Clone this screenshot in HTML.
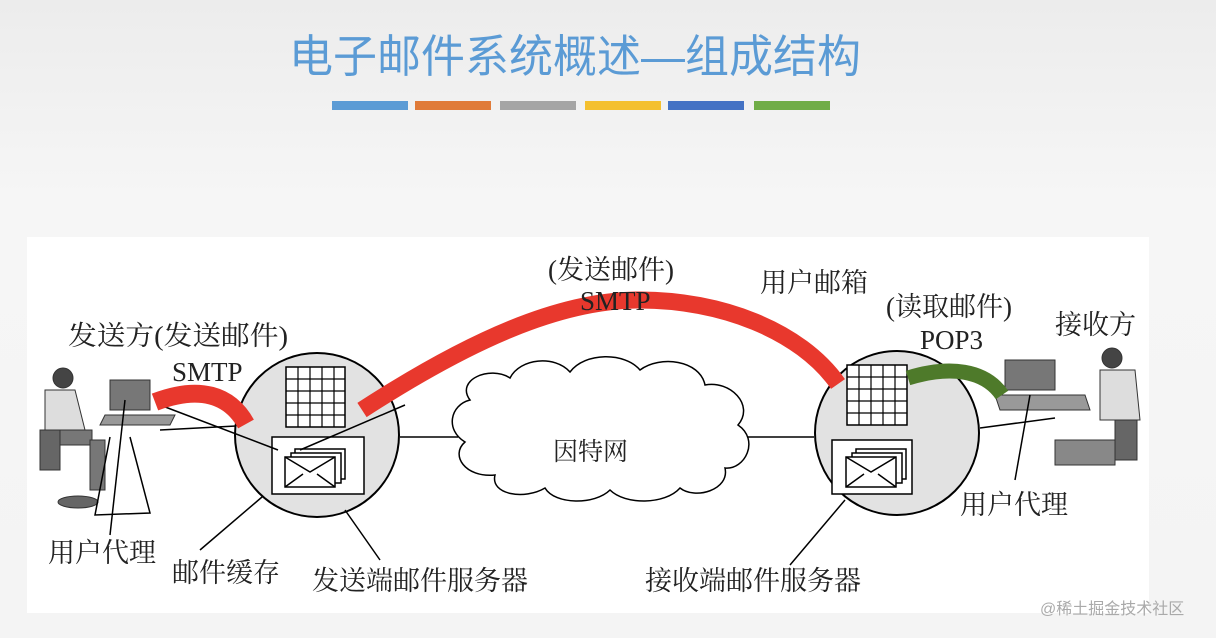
<!DOCTYPE html>
<html><head><meta charset="utf-8"><style>
html,body{margin:0;padding:0;width:1216px;height:638px;overflow:hidden;background:linear-gradient(#ececec,#f6f6f6 200px,#f4f4f4);}
svg{position:absolute;left:0;top:0}
</style></head><body>
<svg width="1216" height="638" viewBox="0 0 1216 638" font-family="Liberation Serif, Noto Serif CJK SC, serif">
<text x="575" y="72" text-anchor="middle" font-family="Liberation Sans, Noto Sans CJK SC, sans-serif" font-size="45" fill="#5b9bd5" textLength="572" lengthAdjust="spacingAndGlyphs">电子邮件系统概述—组成结构</text>
<g>
<rect x="332" y="101" width="76" height="9" fill="#5b9bd5"/>
<rect x="415" y="101" width="76" height="9" fill="#e07b39"/>
<rect x="500" y="101" width="76" height="9" fill="#a5a5a5"/>
<rect x="585" y="101" width="76" height="9" fill="#f4c030"/>
<rect x="668" y="101" width="76" height="9" fill="#4472c4"/>
<rect x="754" y="101" width="76" height="9" fill="#70ad47"/>
</g>
<rect x="27" y="237" width="1122" height="376" fill="#fff"/>
<g stroke="#000" stroke-width="1.5" fill="none">
<line x1="160" y1="430" x2="236" y2="426"/>
<line x1="400" y1="437" x2="458" y2="437"/>
<line x1="745" y1="437" x2="814" y2="437"/>
<line x1="980" y1="428" x2="1055" y2="418"/>
</g>
<circle cx="317" cy="435" r="82" fill="#e2e2e2" stroke="#000" stroke-width="2"/>
<circle cx="897" cy="433" r="82" fill="#e2e2e2" stroke="#000" stroke-width="2"/>
<g stroke="#000" stroke-width="1.5" fill="#fff">
<rect x="286" y="367" width="59" height="60"/>
<rect x="847" y="365" width="60" height="60"/>
</g>
<g stroke="#000" stroke-width="1.2">
<path d="M298 367V427M310 367V427M322 367V427M334 367V427M286 379H345M286 391H345M286 403H345M286 415H345"/>
<path d="M859 365V425M871 365V425M883 365V425M895 365V425M847 377H907M847 389H907M847 401H907M847 413H907"/>
</g>
<g stroke="#000" stroke-width="1.5" fill="#fff">
<rect x="272" y="437" width="92" height="57"/>
<rect x="295" y="449" width="50" height="30"/><rect x="291" y="453" width="50" height="30"/><rect x="285" y="457" width="50" height="30"/>
<path d="M285 457L310 472L335 457M285 487L303 474M335 487L317 474" fill="none"/>
<rect x="832" y="440" width="80" height="54"/>
<rect x="856" y="449" width="50" height="30"/><rect x="852" y="453" width="50" height="30"/><rect x="846" y="457" width="50" height="30"/>
<path d="M846 457L871 472L896 457M846 487L864 474M896 487L878 474" fill="none"/>
</g>
<path d="M470 400 C455 380 490 365 510 378 C520 358 555 355 570 372 C585 352 625 352 640 370 C660 355 700 360 705 385 C730 380 755 405 738 425 C760 440 745 470 725 468 C730 490 695 500 680 488 C665 505 625 505 610 490 C595 505 555 505 545 488 C525 500 490 495 495 475 C465 478 450 455 465 442 C445 430 450 405 470 400Z" fill="#fff" stroke="#000" stroke-width="1.5"/>
<text x="553" y="460" font-size="25" fill="#222">因特网</text>
<g fill="#888" stroke="#333" stroke-width="1">
<rect x="110" y="380" width="40" height="30" fill="#777"/>
<path d="M105 415h70l-5 10h-70z" fill="#999"/>
<circle cx="63" cy="378" r="10" fill="#444"/>
<path d="M45 390h30l10 40h-40z" fill="#ddd"/>
<path d="M42 430h50v15h-50z" fill="#777"/>
<rect x="40" y="430" width="20" height="40" fill="#666"/>
<rect x="90" y="440" width="15" height="50" fill="#777"/>
<ellipse cx="78" cy="502" rx="20" ry="6" fill="#666"/>
<rect x="1005" y="360" width="50" height="30" fill="#777"/>
<path d="M995 395h90l5 15h-90z" fill="#999"/>
<circle cx="1112" cy="358" r="10" fill="#444"/>
<path d="M1100 370h35l5 50h-40z" fill="#ddd"/>
<path d="M1055 440h60v25h-60z" fill="#888"/>
<rect x="1115" y="420" width="22" height="40" fill="#666"/>
</g>
<g stroke="#000" stroke-width="1.5" fill="none">
<path d="M110 437L95 515L150 513L130 437"/>
<line x1="125" y1="400" x2="110" y2="535"/>
<line x1="262" y1="497" x2="200" y2="550"/>
<line x1="345" y1="510" x2="380" y2="560"/>
<line x1="845" y1="500" x2="790" y2="565"/>
<line x1="1030" y1="395" x2="1015" y2="480"/>
<line x1="160" y1="405" x2="278" y2="450"/>
<line x1="405" y1="405" x2="300" y2="450"/>
</g>
<path d="M155 402 C200 385 230 395 246 424" stroke="#e8382d" stroke-width="18" fill="none"/>
<path d="M362 410 C470 340 560 300 640 300 C720 300 800 330 838 384" stroke="#e8382d" stroke-width="17" fill="none"/>
<path d="M908 378 C950 365 985 370 1002 395" stroke="#4e7a2a" stroke-width="15" fill="none"/>
<g font-size="27" fill="#222">
<text x="68" y="345" textLength="220" lengthAdjust="spacingAndGlyphs">发送方(发送邮件)</text>
<text x="172" y="381">SMTP</text>
<text x="548" y="279">(发送邮件)</text>
<text x="580" y="310">SMTP</text>
<text x="760" y="292">用户邮箱</text>
<text x="886" y="316">(读取邮件)</text>
<text x="920" y="349">POP3</text>
<text x="1055" y="334">接收方</text>
<text x="960" y="514">用户代理</text>
<text x="48" y="562">用户代理</text>
<text x="172" y="582">邮件缓存</text>
<text x="312" y="590">发送端邮件服务器</text>
<text x="645" y="590">接收端邮件服务器</text>
</g>
<text x="1040" y="614" font-family="Liberation Sans, Noto Sans CJK SC, sans-serif" font-size="16" fill="#aaa">@稀土掘金技术社区</text>
</svg>
</body></html>
